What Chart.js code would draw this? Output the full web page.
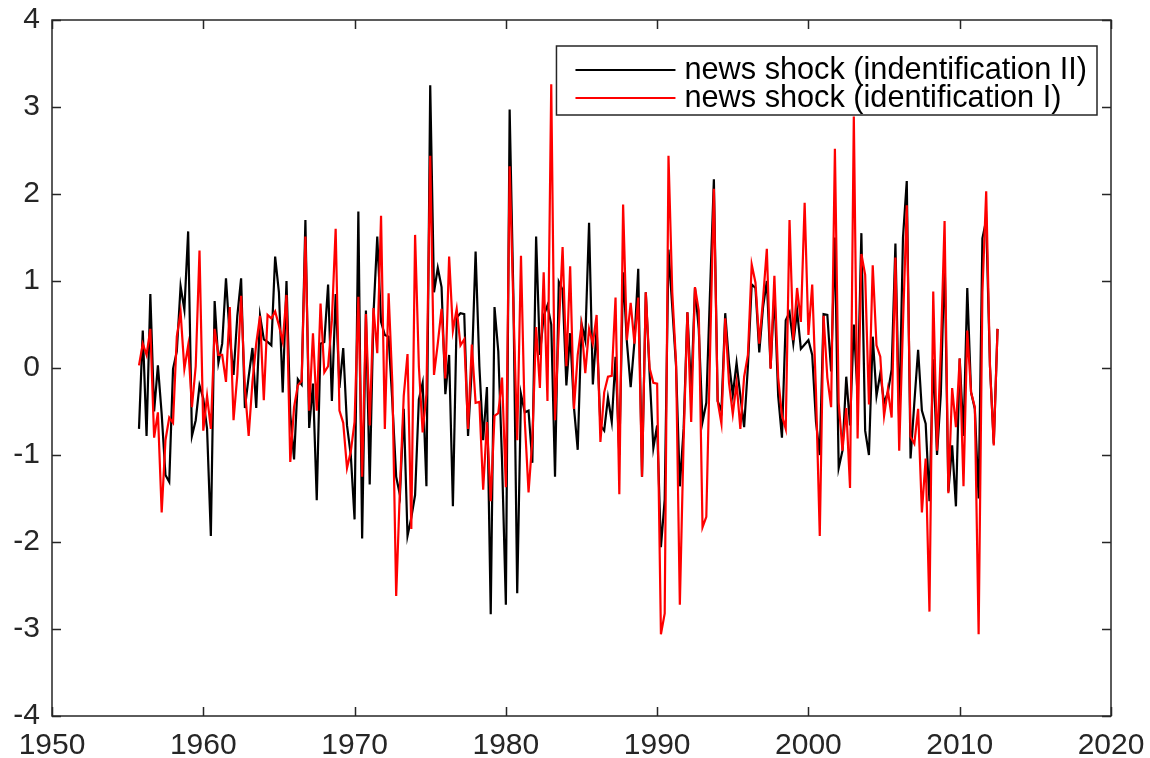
<!DOCTYPE html>
<html>
<head>
<meta charset="utf-8">
<script src="https://cdn.jsdelivr.net/npm/chart.js@4"></script>
<style>
  html, body { margin: 0; padding: 0; background: #fff; }
  #wrap { width: 1150px; height: 758px; }
</style>
</head>
<body>
<div id="wrap"><canvas id="shockChart" width="1150" height="758"></canvas></div>
<script>
// quarterly series, first quarter plotted at 1955.75
const startYear = 1955.75;
const quarterStep = 0.25;

const labelII = 'news shock (indentification II)';
const labelI = 'news shock (identification I)';

const shockII = [
  -0.70, 0.43, -0.78, 0.85, -0.50, 0.03, -0.53, -1.23, -1.31, -0.01, 0.19, 0.94,
  0.67, 1.57, -0.78, -0.60, -0.20, -0.35, -0.70, -1.93, 0.77, 0.06, 0.28, 1.03,
  0.36, -0.08, 0.60, 1.03, -0.46, -0.10, 0.23, -0.46, 0.60, 0.33, 0.30, 0.26,
  1.28, 0.87, -0.28, 1.00, -0.53, -1.05, -0.13, -0.19, 1.70, -0.69, -0.18, -1.52,
  0.28, 0.30, 0.96, -0.38, 0.85, -0.23, 0.23, -0.66, -1.00, -1.74, 1.80, -1.96,
  0.66, -1.34, 0.62, 1.51, 0.53, 0.38, 0.36, -0.40, -1.25, -1.46, -0.47, -1.93,
  -1.72, -1.46, -0.36, -0.17, -1.36, 3.25, 0.87, 1.15, 0.93, -0.30, 0.15, -1.59,
  0.58, 0.63, 0.62, -0.78, 0.00, 1.34, 0.02, -0.83, -0.22, -2.83, 0.70, 0.19,
  -1.08, -2.72, 2.97, 0.80, -2.59, -0.30, -0.51, -0.49, -1.09, 1.51, 0.15, 0.60,
  0.72, 0.50, -1.25, 0.99, 0.90, -0.20, 0.40, -0.45, -0.94, 0.51, 0.32, 1.67,
  -0.19, 0.45, -0.66, -0.72, -0.34, -0.62, 0.13, -1.00, 1.10, 0.30, -0.22, 0.30,
  1.14, -1.25, 0.87, -0.06, -0.92, -0.66, -2.06, -1.51, 1.36, 0.70, 0.02, -1.36,
  -0.70, 0.64, -0.28, 0.92, 0.45, -0.62, -0.40, 0.90, 2.17, -0.38, -0.49, 0.63,
  0.06, -0.31, 0.06, -0.32, -0.68, 0.02, 0.96, 0.92, 0.18, 0.70, 1.00, 0.00,
  0.87, -0.32, -0.80, 0.55, 0.64, 0.28, 0.66, 0.22, 0.27, 0.32, 0.15, -0.62,
  -1.00, 0.62, 0.61, -0.04, 1.50, -1.15, -0.95, -0.10, -0.66, 0.50, -0.32, 1.55,
  -0.72, -1.00, 0.36, -0.32, -0.06, -0.40, -0.28, -0.02, 1.43, -0.62, 1.50, 2.15,
  -1.04, -0.40, 0.21, -0.49, -0.64, -1.53, 0.10, -1.00, -0.30, 1.30, -1.42, -0.89,
  -1.59, 0.11, -0.78, 0.92, -0.28, -0.47, -1.50, 1.49, 1.70, 0.02, -0.87, 0.45
];

const shockI = [
  0.03, 0.28, 0.15, 0.45, -0.80, -0.51, -1.66, -0.83, -0.57, -0.63, 0.36, 0.64,
  -0.01, 0.26, -0.45, 0.02, 1.35, -0.72, -0.32, -0.70, 0.45, 0.15, 0.15, -0.16,
  0.70, -0.60, -0.08, 0.83, -0.23, -0.78, -0.16, 0.28, 0.60, -0.37, 0.61, 0.57,
  0.65, 0.49, 0.30, 0.84, -1.08, -0.45, -0.20, -0.15, 1.51, -0.49, 0.40, -0.49,
  0.74, -0.05, 0.02, 0.55, 1.60, -0.49, -0.63, -1.15, -0.96, -0.62, 0.82, -1.25,
  0.62, -0.66, 0.69, 0.17, 1.75, -0.70, 0.86, -0.19, -2.62, -1.38, -0.32, 0.16,
  -1.85, 1.53, 0.02, -0.74, -0.30, 2.44, -0.08, 0.28, 0.68, -0.12, 1.28, 0.43,
  0.68, 0.26, 0.33, -0.70, 0.27, -0.40, -0.39, -1.40, -0.62, -1.53, -0.55, -0.52,
  -0.11, -1.37, 2.32, 0.70, -0.83, 1.29, -0.60, -1.43, -0.83, 0.47, -0.23, 1.10,
  -0.38, 3.26, -0.60, 0.45, 1.39, 0.02, 1.17, -0.47, 0.15, 0.49, -0.06, 0.45,
  0.28, 0.61, -0.85, -0.28, -0.10, -0.09, 0.81, -1.45, 1.88, 0.32, 0.75, 0.28,
  0.81, -1.25, 0.87, 0.00, -0.17, -0.18, -3.06, -2.82, 2.44, 0.87, 0.06, -2.72,
  -0.83, 0.64, -0.62, 0.93, 0.66, -1.83, -1.71, 0.20, 2.06, -0.38, -0.64, 0.57,
  -0.17, -0.53, -0.17, -0.70, -0.10, 0.15, 1.19, 0.98, 0.28, 0.79, 1.37, -0.01,
  1.06, -0.11, -0.55, -0.70, 1.70, 0.32, 0.92, 0.53, 1.90, 0.38, 0.96, -0.28,
  -1.93, 0.60, -0.11, -0.45, 2.52, -0.40, -0.95, -0.46, -1.38, 2.89, -0.81, 1.31,
  1.07, -0.42, 1.18, 0.26, 0.13, -0.55, -0.25, -0.57, 1.27, -0.95, 0.50, 1.87,
  -0.79, -0.87, -0.47, -1.66, -1.04, -2.80, 0.88, -0.95, 0.20, 1.69, -1.44, -0.23,
  -0.68, 0.11, -1.36, 0.43, -0.28, -0.45, -3.06, 0.87, 2.03, 0.02, -0.89, 0.45
];

const xMin = 1950, xMax = 2020, xStep = 10;
const yMin = -4, yMax = 4, yStep = 1;

const years = shockII.map((_, i) => startYear + i * quarterStep);

function toPoints(values) {
    return values.map((v, i) => ({ x: years[i], y: v }));
}

const FONT = '"Liberation Sans", Arial, Helvetica, sans-serif';
const AXIS_COLOR = '#262626';
const TICK_LEN = 9;

// matlab style box, inward ticks and legend inside the axes
const matlabFrame = {
    id: 'matlabFrame',
    afterDraw(chart) {
        const { ctx, chartArea: a, scales } = chart;
        ctx.save();
        ctx.strokeStyle = AXIS_COLOR;
        ctx.lineWidth = 1.5;
        ctx.strokeRect(a.left, a.top, a.right - a.left, a.bottom - a.top);

        ctx.beginPath();
        scales.x.ticks.forEach(t => {
            const px = Math.round(scales.x.getPixelForValue(t.value)) + 0.5;
            ctx.moveTo(px, a.bottom);
            ctx.lineTo(px, a.bottom - TICK_LEN);
            ctx.moveTo(px, a.top);
            ctx.lineTo(px, a.top + TICK_LEN);
        });
        scales.y.ticks.forEach(t => {
            const py = Math.round(scales.y.getPixelForValue(t.value)) + 0.5;
            ctx.moveTo(a.left, py);
            ctx.lineTo(a.left + TICK_LEN, py);
            ctx.moveTo(a.right, py);
            ctx.lineTo(a.right - TICK_LEN, py);
        });
        ctx.stroke();

        // legend
        const sets = chart.data.datasets.slice().sort((p, q) => p.legendIndex - q.legendIndex);
        ctx.font = '30.7px ' + FONT;
        const textW = Math.max(...sets.map(d => ctx.measureText(d.label).width));
        const right = a.right - 14;
        const top = a.top + 26;
        const left = right - (19 + 100 + 9 + textW + 10);
        const height = 69;
        ctx.fillStyle = '#ffffff';
        ctx.fillRect(left, top, right - left, height);
        ctx.strokeStyle = AXIS_COLOR;
        ctx.lineWidth = 1.5;
        ctx.strokeRect(left, top, right - left, height);

        sets.forEach((d, i) => {
            const ry = top + 24 + i * 28;
            ctx.strokeStyle = d.borderColor;
            ctx.lineWidth = 2;
            ctx.beginPath();
            ctx.moveTo(left + 19, ry);
            ctx.lineTo(left + 119, ry);
            ctx.stroke();
            ctx.fillStyle = '#000000';
            ctx.textBaseline = 'middle';
            ctx.textAlign = 'left';
            ctx.fillText(d.label, left + 128, ry + 1);
        });
        ctx.restore();
    }
};

// fixed axis sizes, and no extra room for overhanging end labels
function fitX(s) {
    s.height = 42;
    s.paddingLeft = 0;
    s.paddingRight = 0;
}
function fitY(s) {
    s.width = 52;
    s.paddingTop = 0;
    s.paddingBottom = 0;
}

new Chart(document.getElementById('shockChart'), {
    type: 'line',
    data: {
        datasets: [
            {
                label: labelII,
                data: toPoints(shockII),
                borderColor: '#000000',
                borderWidth: 2.2,
                pointRadius: 0,
                tension: 0,
                fill: false,
                order: 2,
                legendIndex: 0
            },
            {
                label: labelI,
                data: toPoints(shockI),
                borderColor: '#ff0000',
                borderWidth: 2.2,
                pointRadius: 0,
                tension: 0,
                fill: false,
                order: 1,
                legendIndex: 1
            }
        ]
    },
    options: {
        responsive: false,
        animation: false,
        devicePixelRatio: 1,
        layout: { padding: { top: 20, right: 39, left: 0, bottom: 0 } },
        plugins: {
            legend: { display: false },
            tooltip: { enabled: false }
        },
        scales: {
            x: {
                type: 'linear',
                min: xMin,
                max: xMax,
                afterFit: fitX,
                grid: { display: false, drawTicks: false },
                border: { display: false },
                ticks: {
                    stepSize: xStep,
                    padding: 12,
                    color: AXIS_COLOR,
                    maxRotation: 0,
                    font: { family: FONT, size: 30 },
                    callback: v => String(v)
                }
            },
            y: {
                type: 'linear',
                min: yMin,
                max: yMax,
                afterFit: fitY,
                grid: { display: false, drawTicks: false },
                border: { display: false },
                ticks: {
                    stepSize: yStep,
                    padding: 12,
                    color: AXIS_COLOR,
                    font: { family: FONT, size: 30 },
                    callback: v => String(v)
                }
            }
        }
    },
    plugins: [matlabFrame]
});
</script>
</body>
</html>
